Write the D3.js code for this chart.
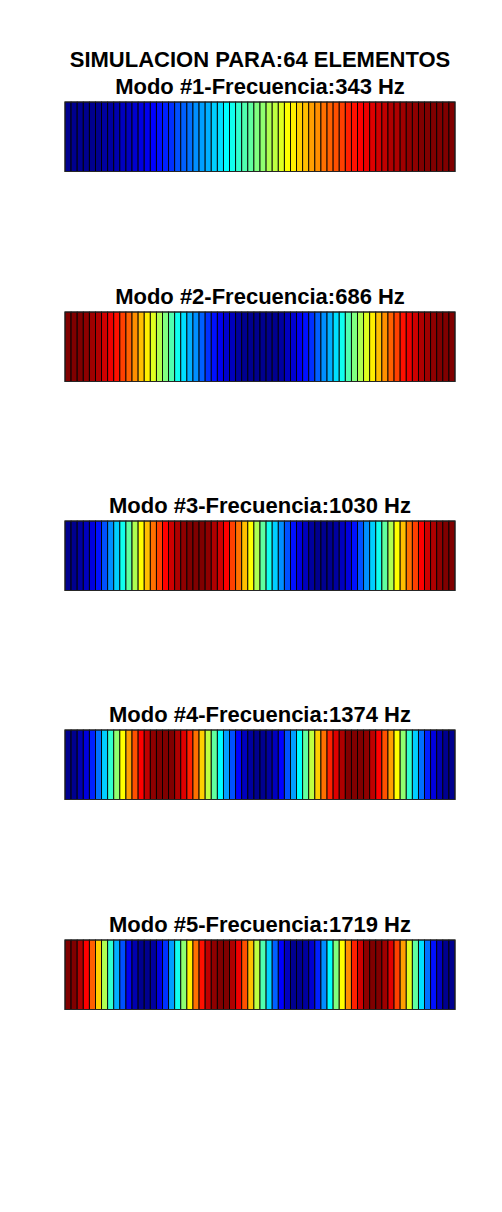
<!DOCTYPE html>
<html>
<head>
<meta charset="utf-8">
<script src="https://cdn.jsdelivr.net/npm/d3@7"></script>
<style>
  html, body { margin: 0; padding: 0; background: #fff; }
  svg { display: block; }
  text { font-family: "Liberation Sans", Arial, Helvetica, sans-serif; font-weight: bold; fill: #000; }
</style>
</head>
<body>
<div id="chart"></div>
<script>
// ---- data (amplitude per element) ----
const suptitle = "SIMULACION PARA:64 ELEMENTOS";
const modeTitles = [
  "Modo #1-Frecuencia:343 Hz",
  "Modo #2-Frecuencia:686 Hz",
  "Modo #3-Frecuencia:1030 Hz",
  "Modo #4-Frecuencia:1374 Hz",
  "Modo #5-Frecuencia:1719 Hz"
];
const mode1 = [-1.00,-1.00,-0.99,-0.99,-0.98,-0.97,-0.96,-0.94,-0.92,-0.90,-0.88,-0.85,-0.83,-0.80,-0.77,-0.73,
  -0.70,-0.66,-0.62,-0.58,-0.54,-0.50,-0.46,-0.41,-0.37,-0.32,-0.27,-0.22,-0.17,-0.12,-0.07,-0.02,
  0.02,0.07,0.12,0.17,0.22,0.27,0.32,0.37,0.41,0.46,0.50,0.54,0.58,0.62,0.66,0.70,
  0.73,0.77,0.80,0.83,0.85,0.88,0.90,0.92,0.94,0.96,0.97,0.98,0.99,0.99,1.00,1.00];
const mode2 = [1.00,0.99,0.98,0.96,0.92,0.88,0.83,0.77,0.70,0.62,0.54,0.46,0.37,0.27,0.17,0.07,
  -0.02,-0.12,-0.22,-0.32,-0.41,-0.50,-0.58,-0.66,-0.73,-0.80,-0.85,-0.90,-0.94,-0.97,-0.99,-1.00,
  -1.00,-0.99,-0.97,-0.94,-0.90,-0.85,-0.80,-0.73,-0.66,-0.58,-0.50,-0.41,-0.32,-0.22,-0.12,-0.02,
  0.07,0.17,0.27,0.37,0.46,0.54,0.62,0.70,0.77,0.83,0.88,0.92,0.96,0.98,0.99,1.00];
const mode3 = [-1.00,-0.99,-0.96,-0.90,-0.83,-0.73,-0.62,-0.50,-0.37,-0.22,-0.07,0.07,0.22,0.37,0.50,0.62,
  0.73,0.83,0.90,0.96,0.99,1.00,0.99,0.96,0.90,0.83,0.73,0.62,0.50,0.37,0.22,0.07,
  -0.07,-0.22,-0.37,-0.50,-0.62,-0.73,-0.83,-0.90,-0.96,-0.99,-1.00,-0.99,-0.96,-0.90,-0.83,-0.73,
  -0.62,-0.50,-0.37,-0.22,-0.07,0.07,0.22,0.37,0.50,0.62,0.73,0.83,0.90,0.96,0.99,1.00];
const mode4 = [-1.00,-0.98,-0.92,-0.83,-0.70,-0.54,-0.37,-0.17,0.02,0.22,0.41,0.58,0.73,0.85,0.94,0.99,
  1.00,0.97,0.90,0.80,0.66,0.50,0.32,0.12,-0.07,-0.27,-0.46,-0.62,-0.77,-0.88,-0.96,-0.99,
  -0.99,-0.96,-0.88,-0.77,-0.62,-0.46,-0.27,-0.07,0.12,0.32,0.50,0.66,0.80,0.90,0.97,1.00,
  0.99,0.94,0.85,0.73,0.58,0.41,0.22,0.02,-0.17,-0.37,-0.54,-0.70,-0.83,-0.92,-0.98,-1.00];
const mode5 = [1.00,0.97,0.88,0.73,0.54,0.32,0.07,-0.17,-0.41,-0.62,-0.80,-0.92,-0.99,-0.99,-0.94,-0.83,
  -0.66,-0.46,-0.22,0.02,0.27,0.50,0.70,0.85,0.96,1.00,0.98,0.90,0.77,0.58,0.37,0.12,
  -0.12,-0.37,-0.58,-0.77,-0.90,-0.98,-1.00,-0.96,-0.85,-0.70,-0.50,-0.27,-0.02,0.22,0.46,0.66,
  0.83,0.94,0.99,0.99,0.92,0.80,0.62,0.41,0.17,-0.07,-0.32,-0.54,-0.73,-0.88,-0.97,-1.00];
const modes = [mode1, mode2, mode3, mode4, mode5];

// ---- layout ----
const W = 502, H = 1212;
const plotLeft = 65, plotRight = 455;
const barTops = [102, 312, 521, 730, 940];
const barH = 69.5;

// MATLAB jet(64)
const clamp = v => Math.max(0, Math.min(1, v));
const jet64 = d3.range(1, 65).map(i => {
  const r = clamp(Math.min((i - 24) / 16, (72 - i) / 16));
  const g = clamp(Math.min((i - 8) / 16, (56 - i) / 16));
  const b = clamp(Math.min((i + 8) / 16, (40 - i) / 16));
  return d3.rgb(r * 255, g * 255, b * 255).formatHex();
});
const color = d3.scaleQuantize().domain([-1, 1]).range(jet64);

const svg = d3.select("#chart").append("svg")
  .attr("width", W).attr("height", H)
  .attr("viewBox", `0 0 ${W} ${H}`);

const x = d3.scaleLinear().domain([0, 64]).range([plotLeft, plotRight]);
const cx = (plotLeft + plotRight) / 2;

svg.append("text")
  .attr("x", cx).attr("y", 67)
  .attr("text-anchor", "middle")
  .style("font-size", "22px")
  .text(suptitle);

modes.forEach((vals, m) => {
  const y0 = barTops[m];
  const y = d3.scaleLinear().domain([0, 1]).range([y0, y0 + barH]);
  const g = svg.append("g");
  g.selectAll("rect.cell")
    .data(vals)
    .join("rect")
    .attr("class", "cell")
    .attr("x", (d, i) => x(i))
    .attr("y", y(0))
    .attr("width", x(1) - x(0))
    .attr("height", y(1) - y(0))
    .attr("fill", d => color(d))
    .attr("stroke", "#000")
    .attr("stroke-width", 0.9);
  g.append("rect")
    .attr("x", x(0)).attr("y", y(0))
    .attr("width", x(64) - x(0)).attr("height", y(1) - y(0))
    .attr("fill", "none")
    .attr("stroke", "#262626")
    .attr("stroke-width", 1);
  svg.append("text")
    .attr("x", cx).attr("y", y0 - 8)
    .attr("text-anchor", "middle")
    .style("font-size", "22px")
    .text(modeTitles[m]);
});
</script>
</body>
</html>
